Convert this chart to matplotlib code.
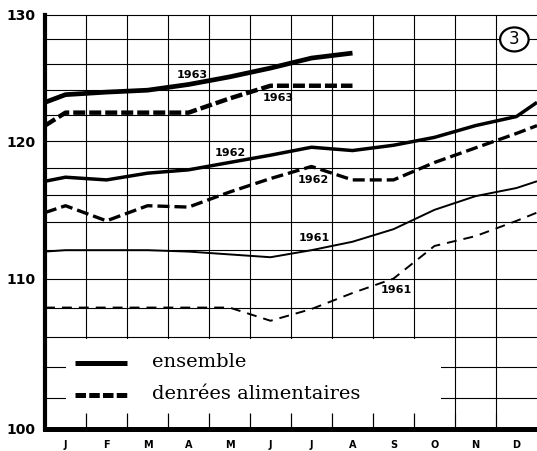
import numpy as np
import matplotlib
matplotlib.use("Agg")
import matplotlib.pyplot as plt
from matplotlib.patches import Rectangle, Circle

# ---- data ----
months = ["J", "F", "M", "A", "M", "J", "J", "A", "S", "O", "N", "D"]
years = [1961, 1962, 1963]
# value at the very start of each year (left axis), shared with end of previous year
ens_start = [111.9, 117.0, 123.0]
den_start = [108.0, 114.7, 121.2]
ens_1961 = [112.0, 112.0, 112.0, 111.9, 111.7, 111.5, 112.0, 112.6, 113.5, 114.9, 115.9, 116.5]
ens_1962 = [117.3, 117.1, 117.6, 117.85, 118.4, 118.95, 119.55, 119.3, 119.7, 120.3, 121.2, 121.9]
ens_1963 = [123.6, 123.8, 123.95, 124.4, 125.0, 125.7, 126.5, 126.9]
den_1961 = [108.0, 108.0, 108.0, 108.0, 108.0, 107.1, 107.9, 109.0, 110.0, 112.3, 113.0, 114.1]
den_1962 = [115.2, 114.1, 115.2, 115.1, 116.2, 117.2, 118.1, 117.1, 117.1, 118.4, 119.5, 120.6]
den_1963 = [122.2, 122.2, 122.2, 122.2, 123.3, 124.3, 124.3, 124.3]
yticks_major = [100, 110, 120, 130]
ygrid = list(range(100, 131, 2))

fig = plt.figure(figsize=(5.37, 4.51), dpi=100)
ax = fig.add_axes([45 / 537, 22 / 451, 492 / 537, 414 / 451])
ax.set_yscale("log")
ax.set_ylim(100, 130)
ax.set_xlim(0, 12)

# grid
for g in ygrid:
    ax.axhline(g, color="black", lw=0.8, zorder=1, clip_on=False)
for b in range(1, 12):
    ax.axvline(b, color="black", lw=0.8, zorder=1)

# white legend area
ax.add_patch(Rectangle((0.5, 100.95), 9.15, 105.9 - 100.95, facecolor="white",
                       edgecolor="none", zorder=2))
ax.vlines(range(1, 12), 100, 101.0, color="black", lw=0.8, zorder=3)

def series(start_list, vals, i):
    xs = [0] + list(np.arange(len(vals)) + 0.5)
    ys = [start_list[i]] + list(vals)
    if len(vals) == 12 and i + 1 < len(start_list):
        xs.append(12)
        ys.append(start_list[i + 1])
    return xs, ys

ens = [ens_1961, ens_1962, ens_1963]
den = [den_1961, den_1962, den_1963]
ens_lw = [1.4, 2.5, 3.4]
den_lw = [1.4, 2.4, 3.2]
den_dash = [(5.1, 3.6), (3.6, 1.5), (2.7, 0.9)]
for i in range(3):
    xs, ys = series(ens_start, ens[i], i)
    ax.plot(xs, ys, color="black", lw=ens_lw[i], solid_capstyle="butt", zorder=4)
    xs, ys = series(den_start, den[i], i)
    ax.plot(xs, ys, color="black", lw=den_lw[i], dashes=den_dash[i],
            dash_capstyle="butt", zorder=4)

# year labels
lab_kw = dict(fontsize=8, fontweight="bold", ha="center", va="center", zorder=5,
              family=["Liberation Sans Narrow", "DejaVu Sans"])
ax.text(3.58, 125.15, "1963", **lab_kw)
ax.text(5.68, 123.3, "1963", **lab_kw)
ax.text(4.51, 119.1, "1962", **lab_kw)
ax.text(6.54, 117.1, "1962", **lab_kw)
ax.text(6.58, 112.9, "1961", **lab_kw)
ax.text(8.56, 109.2, "1961", **lab_kw)

# circled number
ax.add_patch(Circle((0.954, 0.941), 0.029, transform=ax.transAxes, facecolor="white",
                    edgecolor="black", lw=1.6, zorder=5))
ax.text(0.954, 0.941, "3", transform=ax.transAxes, ha="center", va="center",
        fontsize=12, family="DejaVu Sans", zorder=6)

# legend
ax.plot([0.061, 0.166], [0.160, 0.160], transform=ax.transAxes, color="black",
        lw=3.6, solid_capstyle="butt", zorder=5)
ax.plot([0.061, 0.166], [0.082, 0.082], transform=ax.transAxes, color="black",
        lw=3.6, dashes=(2.1, 0.65), dash_capstyle="butt", zorder=5)
ax.text(0.2175, 0.150, "ensemble", transform=ax.transAxes, fontsize=14,
        family="DejaVu Serif", va="baseline", zorder=5)
ax.text(0.2175, 0.072, "denrées alimentaires", transform=ax.transAxes, fontsize=14,
        family="DejaVu Serif", va="baseline", zorder=5)

# axes styling
for s in ["top", "right"]:
    ax.spines[s].set_visible(False)
ax.spines["left"].set_linewidth(3.0)
ax.spines["bottom"].set_linewidth(3.6)
ax.yaxis.set_major_locator(matplotlib.ticker.FixedLocator(yticks_major))
ax.yaxis.set_minor_locator(matplotlib.ticker.NullLocator())
ax.yaxis.set_major_formatter(matplotlib.ticker.FixedFormatter([str(v) for v in yticks_major]))
ax.tick_params(axis="y", length=0, pad=7, labelsize=10)
for t in ax.get_yticklabels():
    t.set_fontweight("bold")
ax.set_xticks(np.arange(12) + 0.5)
ax.set_xticklabels(months, fontsize=7, fontweight="bold")
ax.tick_params(axis="x", length=0, pad=8)

fig.savefig("out.png", dpi=100)
